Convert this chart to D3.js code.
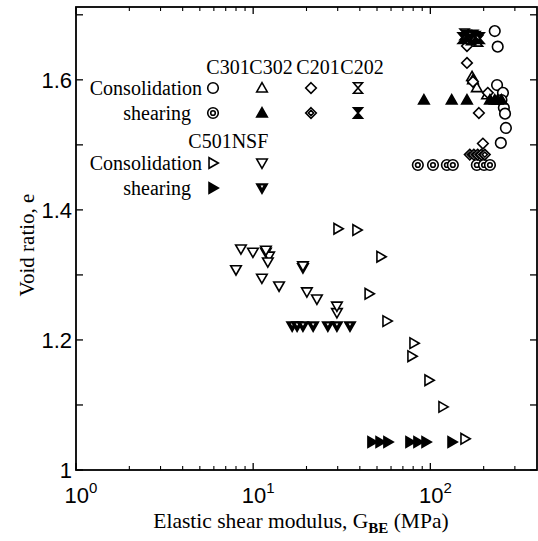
<!DOCTYPE html>
<html><head><meta charset="utf-8">
<script src="https://cdn.jsdelivr.net/npm/d3@7"></script>
<style>
body{margin:0;background:#fff}
svg text{fill:#000}
</style></head>
<body>
<svg id="chart" width="538" height="541"></svg>
<script>
// ---------- data ----------
const c301ConsG = [231, 240, 238, 257, 252, 260, 264, 267, 250];
const c301ConsE = [1.675, 1.651, 1.592, 1.580, 1.569, 1.557, 1.548, 1.526, 1.503];
const c301ShearG = [85, 103.5, 124, 134, 183, 201, 217];
const c301ShearE = [1.469, 1.469, 1.469, 1.469, 1.469, 1.469, 1.469];
const c302ConsG = [172, 174, 183, 209];
const c302ConsE = [1.605, 1.600, 1.588, 1.577];
const c302ShearG = [92, 132, 161, 217, 231, 240, 252];
const c302ShearE = [1.569, 1.569, 1.569, 1.569, 1.569, 1.569, 1.569];
const c201ConsG = [161, 161, 174, 188, 198, 211];
const c201ConsE = [1.652, 1.626, 1.597, 1.549, 1.502, 1.580];
const c201ShearG = [167, 176, 185, 194, 203];
const c201ShearE = [1.485, 1.485, 1.485, 1.485, 1.485];
const c202ConsG = [156, 175, 186];
const c202ConsE = [1.670, 1.668, 1.660];
const c202ShearG = [152, 160, 170, 180, 190];
const c202ShearE = [1.664, 1.668, 1.662, 1.666, 1.664];
const c501ConsG = [30.1, 38.5, 52.6, 45.1, 56.9, 80.8, 78.7, 98.2, 117.8, 156.8];
const c501ConsE = [1.371, 1.369, 1.328, 1.271, 1.229, 1.195, 1.175, 1.138, 1.097, 1.048];
const c501ShearG = [46.8, 52, 57.6, 76.7, 85.1, 94.5, 132.5];
const c501ShearE = [1.043, 1.043, 1.043, 1.043, 1.043, 1.043, 1.043];
const nsfConsG = [8.53, 9.97, 11.8, 12.3, 12.1, 8.0, 11.2, 14.0, 19.1, 20.1, 22.9, 29.7, 29.7, 11.8, 19.1];
const nsfConsE = [1.340, 1.335, 1.335, 1.329, 1.320, 1.308, 1.295, 1.283, 1.311, 1.274, 1.263, 1.242, 1.252, 1.338, 1.314];
const nsfShearG = [16.6, 17.7, 19.1, 21.8, 26.4, 29.7, 35.2];
const nsfShearE = [1.2215, 1.2215, 1.2215, 1.2215, 1.2215, 1.2215, 1.2215];

const yTicks = [1, 1.1, 1.2, 1.3, 1.4, 1.5, 1.6, 1.7];
const yLabels = ["1", "", "1.2", "", "1.4", "", "1.6", ""];
const xMajor = [1, 10, 100];
const xMajorExp = ["0", "1", "2"];
const xMinor = [2,3,4,5,6,7,8,9,20,30,40,50,60,70,80,90,200,300];

const groupNames1 = ["C301", "C302", "C201", "C202"];
const groupNames2 = ["C501", "NSF"];
const rowNames = ["Consolidation", "shearing"];

// ---------- layout ----------
const L = 76, R = 537, T = 7, B = 470;
const svg = d3.select("#chart");
const x = d3.scaleLog().domain([1, 400]).range([L, R]);
const y = d3.scaleLinear().domain([1, 1.712]).range([B, T]);

// ---------- symbols ----------
const s = 5.3;
const shapes = {
  circle: r => `M${r},0A${r},${r} 0 1,1 ${-r},0A${r},${r} 0 1,1 ${r},0Z`,
  up: r => `M0,${-r}L${r},${r*0.75}L${-r},${r*0.75}Z`,
  down: r => `M0,${r}L${r},${-r*0.75}L${-r},${-r*0.75}Z`,
  right: r => `M${r},0L${-r*0.75},${r}L${-r*0.75},${-r}Z`,
  diamond: r => `M0,${-r}L${r},0L0,${r}L${-r},0Z`,
  hour: r => `M${-r*0.85},${-r}L${r*0.85},${-r}L${-r*0.85},${r}L${r*0.85},${r}Z`
};
function drawSym(g, type, cx, cy) {
  const gg = g.append("g").attr("transform", `translate(${cx},${cy})`);
  const st = (p) => p.attr("stroke", "#000").attr("stroke-width", 1.6).attr("stroke-linejoin", "miter");
  switch (type) {
    case "c301c": st(gg.append("path").attr("d", shapes.circle(s)).attr("fill", "#fff")); break;
    case "c301s": st(gg.append("path").attr("d", shapes.circle(s)).attr("fill", "#fff"));
                  st(gg.append("path").attr("d", shapes.circle(2.3)).attr("fill", "none")); break;
    case "c302c": st(gg.append("path").attr("d", shapes.up(s)).attr("fill", "#fff")); break;
    case "c302s": st(gg.append("path").attr("d", shapes.up(s)).attr("fill", "#000")); break;
    case "c201c": st(gg.append("path").attr("d", shapes.diamond(s)).attr("fill", "#fff")); break;
    case "c201s": st(gg.append("path").attr("d", shapes.diamond(s)).attr("fill", "#fff"));
                  st(gg.append("path").attr("d", shapes.diamond(2.6)).attr("fill", "#fff").attr("stroke-width", 2.2)); break;
    case "c202c": st(gg.append("path").attr("d", shapes.hour(s)).attr("fill", "#fff")); break;
    case "c202s": st(gg.append("path").attr("d", shapes.hour(s)).attr("fill", "#000")); break;
    case "c501c": st(gg.append("path").attr("d", shapes.right(s)).attr("fill", "#fff")); break;
    case "c501s": st(gg.append("path").attr("d", shapes.right(s)).attr("fill", "#000")); break;
    case "nsfc": st(gg.append("path").attr("d", shapes.down(s)).attr("fill", "#fff")); break;
    case "nsfs": st(gg.append("path").attr("d", shapes.down(s)).attr("fill", "#000"));
                 gg.append("path").attr("d", shapes.down(1.4)).attr("transform", "translate(0,-1.5)").attr("fill", "#fff"); break;
  }
}

// ---------- data marks ----------
const marks = svg.append("g");
const series = [
  ["c301c", c301ConsG, c301ConsE], ["c302c", c302ConsG, c302ConsE],
  ["c201c", c201ConsG, c201ConsE],
  ["c301s", c301ShearG, c301ShearE], ["c302s", c302ShearG, c302ShearE],
  ["c201s", c201ShearG, c201ShearE],
  ["c202c", c202ConsG, c202ConsE], ["c202s", c202ShearG, c202ShearE],
  ["nsfc", nsfConsG, nsfConsE], ["nsfs", nsfShearG, nsfShearE],
  ["c501c", c501ConsG, c501ConsE], ["c501s", c501ShearG, c501ShearE]
];
series.forEach(([t, gs, es]) => gs.forEach((g, i) => drawSym(marks, t, x(g), y(es[i]))));

// ---------- axes / frame ----------
const ax = svg.append("g").attr("stroke", "#000").attr("fill", "none");
ax.append("rect").attr("x", L).attr("y", T).attr("width", R - L).attr("height", B - T).attr("stroke-width", 1.8);
yTicks.forEach(v => {
  ax.append("line").attr("x1", L).attr("x2", L + 7).attr("y1", y(v)).attr("y2", y(v)).attr("stroke-width", 1.3);
  ax.append("line").attr("x1", R).attr("x2", R - 7).attr("y1", y(v)).attr("y2", y(v)).attr("stroke-width", 1.3);
});
xMajor.forEach(v => {
  ax.append("line").attr("x1", x(v)).attr("x2", x(v)).attr("y1", B).attr("y2", B - 7).attr("stroke-width", 1.3);
  ax.append("line").attr("x1", x(v)).attr("x2", x(v)).attr("y1", T).attr("y2", T + 7).attr("stroke-width", 1.3);
});
xMinor.forEach(v => {
  ax.append("line").attr("x1", x(v)).attr("x2", x(v)).attr("y1", B).attr("y2", B - 4).attr("stroke-width", 1.1);
  ax.append("line").attr("x1", x(v)).attr("x2", x(v)).attr("y1", T).attr("y2", T + 4).attr("stroke-width", 1.1);
});

// tick labels
const sans = "'Liberation Sans', Arial, sans-serif";
const serif = "'Liberation Serif', 'Times New Roman', serif";
yTicks.forEach((v, i) => {
  if (!yLabels[i]) return;
  svg.append("text").attr("x", 72).attr("y", y(v) + 8).attr("text-anchor", "end")
    .attr("font-family", sans).attr("font-size", 22).text(yLabels[i]);
});
xMajor.forEach((v, i) => {
  const t = svg.append("text").attr("x", x(v) + 5).attr("y", 503).attr("text-anchor", "middle")
    .attr("font-family", sans).attr("font-size", 22);
  t.append("tspan").text("10");
  t.append("tspan").attr("dy", -10).attr("font-size", 15).text(xMajorExp[i]);
});

// axis titles
const xt = svg.append("text").attr("x", 301).attr("y", 528).attr("text-anchor", "middle")
  .attr("font-family", serif).attr("font-size", 21.5);
xt.append("tspan").text("Elastic shear modulus, G");
xt.append("tspan").attr("dy", 5).attr("font-size", 15).attr("font-weight", "bold").text("BE");
xt.append("tspan").attr("dy", -5).text(" (MPa)");
svg.append("text").attr("transform", "translate(34,245) rotate(-90)").attr("text-anchor", "middle")
  .attr("font-family", serif).attr("font-size", 21).text("Void ratio, e");

// ---------- in-plot legend ----------
const lg = svg.append("g").attr("font-family", serif).attr("font-size", 20);
const symX1 = [213, 262, 311, 358];
const labX1 = [228, 271, 318, 362];
groupNames1.forEach((n, i) => lg.append("text").attr("x", labX1[i]).attr("y", 74).attr("text-anchor", "middle").text(n));
lg.append("text").attr("x", 202).attr("y", 95).attr("text-anchor", "end").text(rowNames[0]);
lg.append("text").attr("x", 191).attr("y", 120).attr("text-anchor", "end").text(rowNames[1]);
["c301c", "c302c", "c201c", "c202c"].forEach((t, i) => drawSym(lg, t, symX1[i], 88));
["c301s", "c302s", "c201s", "c202s"].forEach((t, i) => drawSym(lg, t, symX1[i], 113));
const symX2 = [213, 262];
const labX2 = [210, 250];
groupNames2.forEach((n, i) => lg.append("text").attr("x", labX2[i]).attr("y", 148).attr("text-anchor", "middle").text(n));
lg.append("text").attr("x", 202).attr("y", 170).attr("text-anchor", "end").text(rowNames[0]);
lg.append("text").attr("x", 191).attr("y", 195).attr("text-anchor", "end").text(rowNames[1]);
["c501c", "nsfc"].forEach((t, i) => drawSym(lg, t, symX2[i], 163));
["c501s", "nsfs"].forEach((t, i) => drawSym(lg, t, symX2[i], 188));
</script>
</body></html>
